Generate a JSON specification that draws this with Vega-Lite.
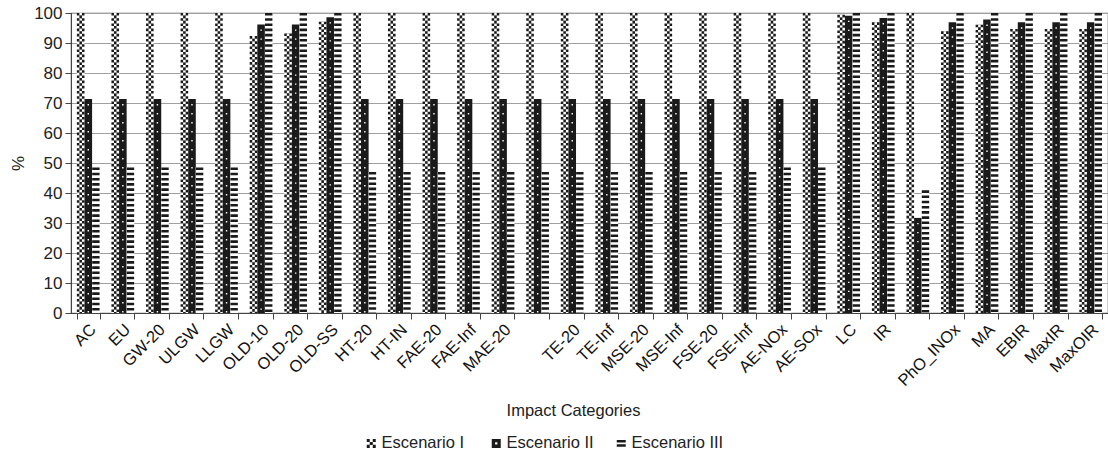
{
  "$schema": "https://vega.github.io/schema/vega-lite/v6.json",
  "width": 1037,
  "height": 300,
  "autosize": {"type": "none"},
  "padding": {"left": 71, "top": 13, "right": 0, "bottom": 147},
  "background": "white",
  "config": {"font": "Liberation Sans", "view": {"stroke": "#666", "strokeWidth": 1.2}},
  "data": {"values": [
    {"cat": "AC", "scen": "Escenario I", "v": 100}, {"cat": "AC", "scen": "Escenario II", "v": 71.3}, {"cat": "AC", "scen": "Escenario III", "v": 48.5},
    {"cat": "EU", "scen": "Escenario I", "v": 100}, {"cat": "EU", "scen": "Escenario II", "v": 71.3}, {"cat": "EU", "scen": "Escenario III", "v": 48.5},
    {"cat": "GW-20", "scen": "Escenario I", "v": 100}, {"cat": "GW-20", "scen": "Escenario II", "v": 71.3}, {"cat": "GW-20", "scen": "Escenario III", "v": 48.5},
    {"cat": "ULGW", "scen": "Escenario I", "v": 100}, {"cat": "ULGW", "scen": "Escenario II", "v": 71.3}, {"cat": "ULGW", "scen": "Escenario III", "v": 48.5},
    {"cat": "LLGW", "scen": "Escenario I", "v": 100}, {"cat": "LLGW", "scen": "Escenario II", "v": 71.3}, {"cat": "LLGW", "scen": "Escenario III", "v": 48.5},
    {"cat": "OLD-10", "scen": "Escenario I", "v": 92.3}, {"cat": "OLD-10", "scen": "Escenario II", "v": 96.2}, {"cat": "OLD-10", "scen": "Escenario III", "v": 100},
    {"cat": "OLD-20", "scen": "Escenario I", "v": 93.2}, {"cat": "OLD-20", "scen": "Escenario II", "v": 96.2}, {"cat": "OLD-20", "scen": "Escenario III", "v": 100},
    {"cat": "OLD-SS", "scen": "Escenario I", "v": 97.1}, {"cat": "OLD-SS", "scen": "Escenario II", "v": 98.6}, {"cat": "OLD-SS", "scen": "Escenario III", "v": 100},
    {"cat": "HT-20", "scen": "Escenario I", "v": 100}, {"cat": "HT-20", "scen": "Escenario II", "v": 71.3}, {"cat": "HT-20", "scen": "Escenario III", "v": 47},
    {"cat": "HT-IN", "scen": "Escenario I", "v": 100}, {"cat": "HT-IN", "scen": "Escenario II", "v": 71.3}, {"cat": "HT-IN", "scen": "Escenario III", "v": 47},
    {"cat": "FAE-20", "scen": "Escenario I", "v": 100}, {"cat": "FAE-20", "scen": "Escenario II", "v": 71.3}, {"cat": "FAE-20", "scen": "Escenario III", "v": 47},
    {"cat": "FAE-Inf", "scen": "Escenario I", "v": 100}, {"cat": "FAE-Inf", "scen": "Escenario II", "v": 71.3}, {"cat": "FAE-Inf", "scen": "Escenario III", "v": 47},
    {"cat": "MAE-20", "scen": "Escenario I", "v": 100}, {"cat": "MAE-20", "scen": "Escenario II", "v": 71.3}, {"cat": "MAE-20", "scen": "Escenario III", "v": 47},
    {"cat": " ", "scen": "Escenario I", "v": 100}, {"cat": " ", "scen": "Escenario II", "v": 71.3}, {"cat": " ", "scen": "Escenario III", "v": 47},
    {"cat": "TE-20", "scen": "Escenario I", "v": 100}, {"cat": "TE-20", "scen": "Escenario II", "v": 71.3}, {"cat": "TE-20", "scen": "Escenario III", "v": 47},
    {"cat": "TE-Inf", "scen": "Escenario I", "v": 100}, {"cat": "TE-Inf", "scen": "Escenario II", "v": 71.3}, {"cat": "TE-Inf", "scen": "Escenario III", "v": 47},
    {"cat": "MSE-20", "scen": "Escenario I", "v": 100}, {"cat": "MSE-20", "scen": "Escenario II", "v": 71.3}, {"cat": "MSE-20", "scen": "Escenario III", "v": 47},
    {"cat": "MSE-Inf", "scen": "Escenario I", "v": 100}, {"cat": "MSE-Inf", "scen": "Escenario II", "v": 71.3}, {"cat": "MSE-Inf", "scen": "Escenario III", "v": 47},
    {"cat": "FSE-20", "scen": "Escenario I", "v": 100}, {"cat": "FSE-20", "scen": "Escenario II", "v": 71.3}, {"cat": "FSE-20", "scen": "Escenario III", "v": 47},
    {"cat": "FSE-Inf", "scen": "Escenario I", "v": 100}, {"cat": "FSE-Inf", "scen": "Escenario II", "v": 71.3}, {"cat": "FSE-Inf", "scen": "Escenario III", "v": 47},
    {"cat": "AE-NOx", "scen": "Escenario I", "v": 100}, {"cat": "AE-NOx", "scen": "Escenario II", "v": 71.3}, {"cat": "AE-NOx", "scen": "Escenario III", "v": 48.5},
    {"cat": "AE-SOx", "scen": "Escenario I", "v": 100}, {"cat": "AE-SOx", "scen": "Escenario II", "v": 71.3}, {"cat": "AE-SOx", "scen": "Escenario III", "v": 48.5},
    {"cat": "LC", "scen": "Escenario I", "v": 99.4}, {"cat": "LC", "scen": "Escenario II", "v": 99.1}, {"cat": "LC", "scen": "Escenario III", "v": 100},
    {"cat": "IR", "scen": "Escenario I", "v": 96.9}, {"cat": "IR", "scen": "Escenario II", "v": 98.3}, {"cat": "IR", "scen": "Escenario III", "v": 100},
    {"cat": "  ", "scen": "Escenario I", "v": 100}, {"cat": "  ", "scen": "Escenario II", "v": 31.7}, {"cat": "  ", "scen": "Escenario III", "v": 40.9},
    {"cat": "PhO_INOx", "scen": "Escenario I", "v": 93.9}, {"cat": "PhO_INOx", "scen": "Escenario II", "v": 96.9}, {"cat": "PhO_INOx", "scen": "Escenario III", "v": 100},
    {"cat": "MA", "scen": "Escenario I", "v": 96.1}, {"cat": "MA", "scen": "Escenario II", "v": 97.8}, {"cat": "MA", "scen": "Escenario III", "v": 100},
    {"cat": "EBIR", "scen": "Escenario I", "v": 94.7}, {"cat": "EBIR", "scen": "Escenario II", "v": 96.9}, {"cat": "EBIR", "scen": "Escenario III", "v": 100},
    {"cat": "MaxIR", "scen": "Escenario I", "v": 94.7}, {"cat": "MaxIR", "scen": "Escenario II", "v": 96.9}, {"cat": "MaxIR", "scen": "Escenario III", "v": 100},
    {"cat": "MaxOIR", "scen": "Escenario I", "v": 94.7}, {"cat": "MaxOIR", "scen": "Escenario II", "v": 96.9}, {"cat": "MaxOIR", "scen": "Escenario III", "v": 100}
  ]},
  "encoding": {
    "x": {
      "field": "cat", "type": "nominal",
      "sort": ["AC", "EU", "GW-20", "ULGW", "LLGW", "OLD-10", "OLD-20", "OLD-SS", "HT-20", "HT-IN", "FAE-20", "FAE-Inf", "MAE-20", " ", "TE-20", "TE-Inf", "MSE-20", "MSE-Inf", "FSE-20", "FSE-Inf", "AE-NOx", "AE-SOx", "LC", "IR", "  ", "PhO_INOx", "MA", "EBIR", "MaxIR", "MaxOIR"],
      "scale": {"paddingInner": 0.34, "paddingOuter": 0.17},
      "axis": {
        "title": "Impact Categories", "labelAngle": -45, "labelFontSize": 16.5, "labelColor": "#111",
        "tickBand": "extent", "tickSize": 6, "tickColor": "#444", "domainColor": "#444",
        "labelPadding": 2, "labelOffset": -1, "grid": false,
        "titleFontSize": 16.5, "titleFontWeight": "normal", "titleColor": "#222",
        "titleX": 502, "titleY": 97, "titleBaseline": "middle"
      }
    },
    "xOffset": {
      "field": "scen", "type": "nominal",
      "sort": ["Escenario I", "Escenario II", "Escenario III"],
      "scale": {"paddingInner": 0, "paddingOuter": 0}
    },
    "y": {
      "field": "v", "type": "quantitative",
      "scale": {"domain": [0, 100], "nice": false},
      "axis": {
        "title": "%", "values": [0, 10, 20, 30, 40, 50, 60, 70, 80, 90, 100],
        "labelFontSize": 17, "labelColor": "#222", "tickSize": 6, "tickColor": "#444",
        "domainColor": "#444", "labelPadding": 3, "gridColor": "#a0a0a0",
        "titleFontSize": 17, "titleFontWeight": "normal", "titleColor": "#222",
        "titleX": -53, "titleY": 150, "titleBaseline": "middle"
      }
    }
  },
  "layer": [
    {
      "mark": {"type": "bar"},
      "encoding": {
        "color": {
          "condition": {"test": "datum.scen === 'Escenario II'", "value": "#1a1a1a"},
          "value": "#ffffff"
        }
      }
    },
    {
      "mark": {"type": "point", "filled": true, "color": "#1a1a1a", "opacity": 0},
      "encoding": {
        "shape": {
          "field": "scen", "type": "nominal",
          "sort": ["Escenario I", "Escenario II", "Escenario III"],
          "scale": {"range": [
            "M-1,-1h0.667v0.667h-0.667Z M0.333,-1h0.667v0.667h-0.667Z M-0.333,-0.333h0.667v0.667h-0.667Z M-1,0.333h0.667v0.667h-0.667Z M0.333,0.333h0.667v0.667h-0.667Z",
            "M-1,-1H1V1H-1Z M-0.25,-0.25V0.25H0.25V-0.25Z",
            "M-1,-0.75H1V-0.2H-1Z M-1,0.2H1V0.75H-1Z"
          ]},
          "legend": {
            "title": null, "orient": "none", "legendX": 292, "legendY": 422,
            "direction": "horizontal", "gridAlign": "all", "columnPadding": 14,
            "labelFontSize": 16.5, "labelColor": "#222", "symbolSize": 81, "labelOffset": 2,
            "symbolOpacity": 1, "symbolFillColor": "#1a1a1a", "symbolStrokeWidth": 0
          }
        }
      }
    },
    {
      "transform": [{"filter": "datum.scen === 'Escenario I'"}],
      "mark": {"type": "rule", "color": "#1a1a1a", "strokeWidth": 7.6, "strokeDash": [2.6, 2.6]},
      "encoding": {"y2": {"datum": 0}}
    },
    {
      "transform": [{"filter": "datum.scen === 'Escenario I'"}],
      "mark": {"type": "rule", "color": "#ffffff", "strokeWidth": 2.55, "strokeDash": [2.6, 2.6]},
      "encoding": {"y2": {"datum": 0}}
    },
    {
      "transform": [{"filter": "datum.scen === 'Escenario I'"}],
      "mark": {"type": "rule", "color": "#1a1a1a", "strokeWidth": 2.55, "strokeDash": [2.6, 2.6], "strokeDashOffset": 2.6},
      "encoding": {"y2": {"datum": 0}}
    },
    {
      "transform": [{"filter": "datum.scen === 'Escenario II'"}],
      "mark": {"type": "rule", "color": "#ffffff", "strokeWidth": 1.4, "strokeDash": [1.4, 7.6], "strokeDashOffset": -5},
      "encoding": {"y2": {"datum": 0}}
    },
    {
      "transform": [{"filter": "datum.scen === 'Escenario III'"}],
      "mark": {"type": "rule", "color": "#1a1a1a", "strokeWidth": 7.4, "strokeDash": [2.6, 2.6]},
      "encoding": {"y2": {"datum": 0}}
    }
  ]
}
